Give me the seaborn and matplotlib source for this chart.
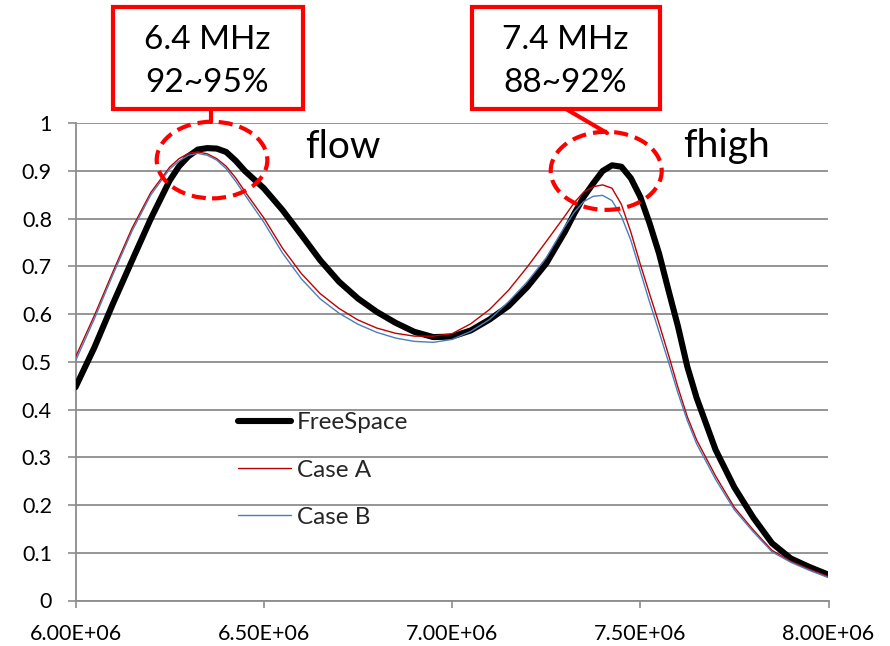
import matplotlib
matplotlib.use("Agg")
import numpy as np
import pandas as pd
import matplotlib.pyplot as plt
from matplotlib.patches import Ellipse, Rectangle
from matplotlib.lines import Line2D
import seaborn as sns

# ---- data -------------------------------------------------------------
freq_mhz = [6.00, 6.05, 6.10, 6.15, 6.20, 6.25, 6.275, 6.30, 6.325, 6.35,
            6.375, 6.40, 6.425, 6.45, 6.50, 6.55, 6.60, 6.65, 6.70, 6.75,
            6.80, 6.85, 6.90, 6.95, 7.00, 7.05, 7.10, 7.15, 7.20, 7.25,
            7.30, 7.325, 7.35, 7.375, 7.40, 7.425, 7.45, 7.475, 7.50, 7.525,
            7.55, 7.575, 7.60, 7.625, 7.65, 7.70, 7.75, 7.80, 7.85, 7.90,
            7.95, 8.00]

freespace = [0.447, 0.530, 0.623, 0.712, 0.800, 0.880, 0.910, 0.931, 0.945, 0.948,
             0.947, 0.940, 0.922, 0.900, 0.864, 0.818, 0.766, 0.713, 0.668, 0.633,
             0.605, 0.582, 0.563, 0.552, 0.553, 0.566, 0.589, 0.617, 0.657, 0.706,
             0.773, 0.811, 0.846, 0.874, 0.900, 0.912, 0.909, 0.885, 0.846, 0.790,
             0.727, 0.650, 0.575, 0.490, 0.424, 0.316, 0.237, 0.174, 0.120, 0.088,
             0.070, 0.054]

case_a = [0.510, 0.597, 0.690, 0.780, 0.855, 0.908, 0.926, 0.937, 0.940, 0.936,
          0.926, 0.910, 0.886, 0.857, 0.802, 0.738, 0.685, 0.643, 0.612, 0.588,
          0.571, 0.560, 0.554, 0.554, 0.559, 0.580, 0.610, 0.650, 0.699, 0.752,
          0.806, 0.834, 0.856, 0.867, 0.871, 0.864, 0.830, 0.772, 0.705, 0.642,
          0.580, 0.515, 0.447, 0.385, 0.336, 0.261, 0.195, 0.148, 0.105, 0.082,
          0.065, 0.050]

case_b = [0.502, 0.590, 0.684, 0.774, 0.850, 0.904, 0.921, 0.933, 0.937, 0.933,
          0.923, 0.905, 0.879, 0.850, 0.793, 0.728, 0.674, 0.632, 0.602, 0.579,
          0.562, 0.550, 0.543, 0.541, 0.547, 0.564, 0.589, 0.626, 0.668, 0.718,
          0.784, 0.814, 0.836, 0.847, 0.849, 0.838, 0.805, 0.755, 0.690, 0.625,
          0.563, 0.500, 0.435, 0.377, 0.328, 0.254, 0.190, 0.144, 0.102, 0.080,
          0.063, 0.048]

series_names = ["FreeSpace", "Case A", "Case B"]

x_ticks = [6.0e6, 6.5e6, 7.0e6, 7.5e6, 8.0e6]
x_tick_labels = ["6.00E+06", "6.50E+06", "7.00E+06", "7.50E+06", "8.00E+06"]
y_ticks = [0.0, 0.1, 0.2, 0.3, 0.4, 0.5, 0.6, 0.7, 0.8, 0.9, 1.0]
y_tick_labels = ["0", "0.1", "0.2", "0.3", "0.4", "0.5", "0.6", "0.7", "0.8", "0.9", "1"]

callout_text = [("6.4 MHz", "92~95%"), ("7.4 MHz", "88~92%")]
band_labels = ["flow", "fhigh"]

# ---- long-form table ----------------------------------------------------
frames = []
for name, vals in zip(series_names, [freespace, case_a, case_b]):
    frames.append(pd.DataFrame({"freq": np.asarray(freq_mhz) * 1e6,
                                "efficiency": vals,
                                "series": name}))
df = pd.concat(frames, ignore_index=True)

# ---- styling ------------------------------------------------------------
sns.set_theme(style="white")
plt.rcParams["font.family"] = ["Lato", "DejaVu Sans"]

W, H = 890, 646
fig = plt.figure(figsize=(W / 100, H / 100), dpi=100)
fig.patch.set_facecolor("white")


def fx(px):
    return px / W


def fy(py):
    return 1 - py / H


ax_left, ax_right, ax_top, ax_bottom = 75.5, 828.5, 123.3, 600.5
ax = fig.add_axes([fx(ax_left), fy(ax_bottom),
                   (ax_right - ax_left) / W, (ax_bottom - ax_top) / H])

styles = {
    "FreeSpace": dict(color="black", linewidth=4.4),
    "Case A": dict(color="#C00000", linewidth=1.0),
    "Case B": dict(color="#4A7EBB", linewidth=1.0),
}
for i, name in enumerate(series_names):
    sns.lineplot(data=df[df["series"] == name], x="freq", y="efficiency",
                 ax=ax, label=name, errorbar=None, legend=False,
                 solid_joinstyle="round", solid_capstyle="round",
                 zorder=3 + i, **styles[name])

ax.set_xlim(6.0e6, 8.0e6)
ax.set_ylim(0, 1)
ax.set_xticks(x_ticks)
ax.set_xticklabels(x_tick_labels)
ax.set_yticks(y_ticks)
ax.set_yticklabels(y_tick_labels)
ax.set_xlabel("")
ax.set_ylabel("")

grid_col = "#8c8c8c"
ax.yaxis.grid(True, color=grid_col, linewidth=1.3)
ax.xaxis.grid(False)
ax.set_axisbelow(True)
for side in ["top", "right"]:
    ax.spines[side].set_visible(False)
for side in ["left", "bottom"]:
    ax.spines[side].set_color(grid_col)
    ax.spines[side].set_linewidth(1.3)

ax.tick_params(axis="both", which="major", direction="out", color=grid_col,
               width=1.2, labelsize=15.5, labelcolor="black",
               bottom=True, left=True)
ax.tick_params(axis="y", length=6, pad=11)
ax.tick_params(axis="x", length=5, pad=12)

leg = ax.legend(loc="center left",
                bbox_to_anchor=((238 - ax_left) / (ax_right - ax_left),
                                (ax_bottom - 470) / (ax_bottom - ax_top)),
                frameon=False, fontsize=17.5, handlelength=2.2,
                handletextpad=0.22, labelspacing=1.07,
                borderpad=0, borderaxespad=0)

# ---- highlight ellipses around the two resonances -----------------------
red = "#FF0000"
ellipses = [((6.3626e6, 0.923), 0.2938e6, 0.1607),
            ((7.4096e6, 0.9004), 0.2948e6, 0.1636)]
for (cx, cy), ew, eh in ellipses:
    ax.add_patch(Ellipse((cx, cy), ew, eh, fill=False, edgecolor=red,
                         linewidth=3, linestyle=(0, (3.4, 1.7)),
                         clip_on=False, zorder=10))

# ---- callout boxes --------------------------------------------------------
boxes = [(113, 303), (472, 660)]
box_top, box_bottom = 7, 109
for (x0, x1), (line1, line2) in zip(boxes, callout_text):
    fig.add_artist(Rectangle((fx(x0), fy(box_bottom)), (x1 - x0) / W,
                             (box_bottom - box_top) / H,
                             transform=fig.transFigure, facecolor="white",
                             edgecolor=red, linewidth=3, zorder=11))
    cxp = (x0 + x1) / 2 - 1
    fig.text(fx(cxp), fy(40), line1, ha="center", va="center",
             fontsize=24, color="black", zorder=12)
    fig.text(fx(cxp), fy(83), line2, ha="center", va="center",
             fontsize=24, color="black", zorder=12)

# connectors between boxes and ellipses
connectors = [((211, box_bottom), (211, 122)),
              ((566, box_bottom), (607, 133))]
for (xa, ya), (xb, yb) in connectors:
    fig.add_artist(Line2D([fx(xa), fx(xb)], [fy(ya), fy(yb)],
                          transform=fig.transFigure, color=red,
                          linewidth=3, zorder=11))

# band labels
fig.text(fx(305), fy(158), band_labels[0], ha="left", va="baseline",
         fontsize=28, color="black")
fig.text(fx(683), fy(157), band_labels[1], ha="left", va="baseline",
         fontsize=28, color="black")

fig.savefig("out.png", dpi=100, facecolor="white")
